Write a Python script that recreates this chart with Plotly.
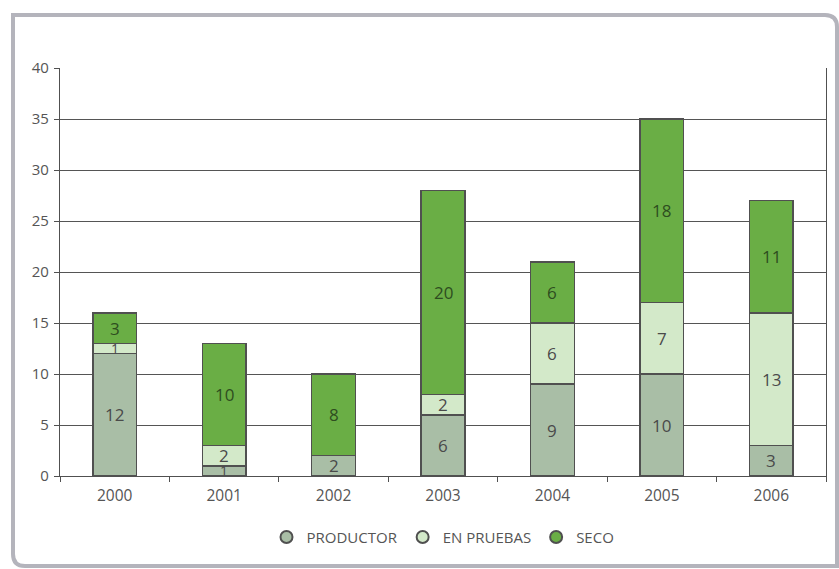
import plotly.graph_objects as go

# Well results per year
years = ["2000", "2001", "2002", "2003", "2004", "2005", "2006"]
productor = [12, 1, 2, 6, 9, 10, 3]
en_pruebas = [1, 2, 0, 2, 6, 7, 13]
seco = [3, 10, 8, 20, 6, 18, 11]
y_ticks = [0, 5, 10, 15, 20, 25, 30, 35, 40]

series = [
    ("PRODUCTOR", productor, "#a9bea6", "#4a4a4a"),
    ("EN PRUEBAS", en_pruebas, "#d3e9c9", "#4a4a4a"),
    ("SECO", seco, "#6aae45", "#2e4d1f"),
]

FONT = "Open Sans"
W, H = 839, 569
ML, MR, MT, MB = 60, 13, 68, 93

fig = go.Figure()
base = [0] * len(years)
annotations = []
for name, vals, color, txtcol in series:
    fig.add_trace(go.Bar(
        x=years, y=vals, name=name,
        marker=dict(color=color, line=dict(color="#505050", width=1.5)),
        showlegend=False, hoverinfo="x+y+name",
    ))
    # value labels centred in each stacked segment (x given as category index)
    for i, v in enumerate(vals):
        if v:
            annotations.append(dict(
                x=i, y=base[i] + v / 2, text=str(v), showarrow=False,
                xref="x", yref="y",
                font=dict(family=FONT, size=17 if v > 1 else 14, color=txtcol),
            ))
        base[i] += v
    # circular legend swatch
    fig.add_trace(go.Scatter(
        x=[None], y=[None], mode="markers", name=name,
        marker=dict(symbol="circle", size=18, color=color,
                    line=dict(color="#505050", width=1.2)),
        showlegend=True,
    ))

# rounded outer frame (paper coordinates)
pw, ph = W - ML - MR, H - MT - MB
def px(x):
    return (x - ML) / pw
def py(y):
    return (H - MB - y) / ph
x0, x1, y0, y1, r = 13, 837, 15, 566, 12
path = (f"M {px(x0)},{py(y0)} L {px(x1 - r)},{py(y0)} "
        f"Q {px(x1)},{py(y0)} {px(x1)},{py(y0 + r)} "
        f"L {px(x1)},{py(y1)} L {px(x0 + r)},{py(y1)} "
        f"Q {px(x0)},{py(y1)} {px(x0)},{py(y1 - r)} Z")
fig.add_shape(type="path", path=path, xref="paper", yref="paper",
              line=dict(color="#b4b4bc", width=4), layer="below")

fig.update_layout(
    width=W, height=H,
    margin=dict(l=ML, r=MR, t=MT, b=MB),
    paper_bgcolor="white", plot_bgcolor="white",
    barmode="stack", bargap=0.6,
    annotations=annotations,
    font=dict(family=FONT, size=15, color="#555555"),
    legend=dict(orientation="h", x=0.5, xanchor="center", y=-0.15,
                yanchor="middle", font=dict(family=FONT, size=15, color="#555555"),
                itemsizing="constant", traceorder="normal", itemwidth=30),
    xaxis=dict(type="category", categoryorder="array", categoryarray=years,
               range=[-0.5, len(years) - 0.5],
               showline=True, linecolor="#505050", linewidth=1.2,
               ticks="outside", tickson="boundaries", ticklen=5,
               tickcolor="#505050", showgrid=False, ticklabelstandoff=5,
               tickfont=dict(family=FONT, size=15.5, color="#555555")),
    yaxis=dict(range=[0, 40], tickvals=y_ticks, showline=True, mirror=True,
               linecolor="#505050", linewidth=1.2, ticks="outside", ticklen=5,
               tickcolor="#505050", showgrid=True, gridcolor="#555555",
               gridwidth=1, zeroline=False, ticklabelstandoff=2,
               tickfont=dict(family=FONT, size=15, color="#555555")),
)

fig.write_html("out.html")
